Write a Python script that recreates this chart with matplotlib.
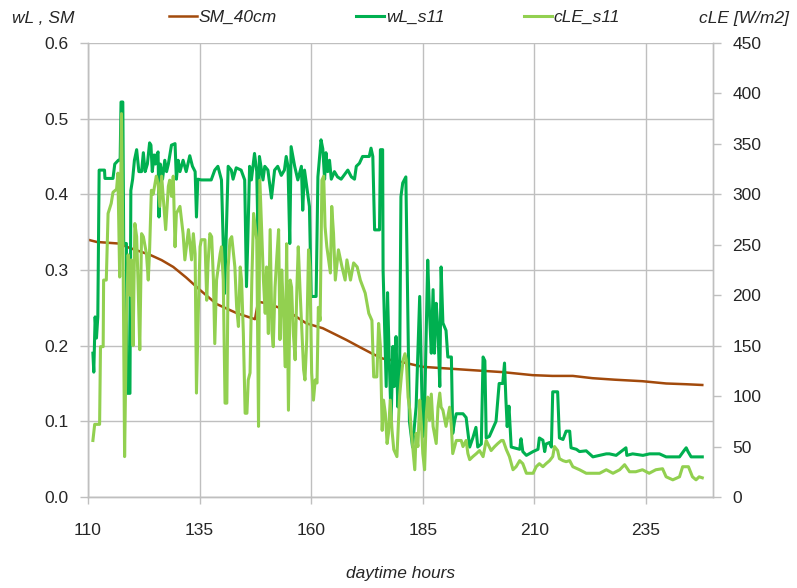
import matplotlib
matplotlib.use("Agg")
import matplotlib.pyplot as plt
from matplotlib.ticker import FixedLocator, FormatStrFormatter

plt.rcParams['font.family'] = ['Liberation Sans Narrow', 'Liberation Sans', 'DejaVu Sans']

# ---- soil moisture at 40 cm (left axis) ----
sm_hours = [110.0, 112.0, 116.8, 119.4, 123.9, 126.5, 129.1, 132.0, 135.0, 138.8,
            143.3, 147.4, 148.1, 150.0, 154.4, 158.9, 162.6, 165.0, 167.9, 170.9,
            173.8, 176.0, 179.8, 182.0, 185.0, 190.0, 195.0, 202.9, 209.6, 214.0,
            218.6, 223.0, 228.0, 234.2, 239.5, 244.0, 247.6]
sm_40cm = [0.340, 0.337, 0.335, 0.329, 0.320, 0.313, 0.304, 0.290, 0.274, 0.255,
           0.243, 0.235, 0.258, 0.256, 0.247, 0.2295, 0.223, 0.216, 0.2075, 0.198,
           0.189, 0.183, 0.179, 0.176, 0.172, 0.170, 0.168, 0.165, 0.161, 0.160,
           0.160, 0.157, 0.155, 0.153, 0.150, 0.149, 0.148]

# ---- wL_s11 (left axis) ----
wl_hours = [111.1, 111.3, 111.6, 111.9, 112.2, 112.5, 113.7, 113.8, 115.6, 116.0,
            116.8, 117.2, 117.4, 117.8, 118.0, 118.6, 118.8, 119.4, 119.6, 120.0,
            120.4, 120.9, 121.4, 122.0, 122.4, 122.8, 123.3, 123.8, 124.1, 124.4,
            124.8, 125.1, 125.4, 125.7, 125.9, 126.2, 126.7, 127.2, 127.6, 128.0,
            128.7, 129.5, 129.8, 130.2, 130.6, 131.3, 132.0, 132.8, 133.4, 134.0,
            134.3, 134.6, 135.4, 137.6, 138.4, 139.1, 139.9, 140.6, 141.4, 142.1,
            142.5, 143.2, 144.3, 145.1, 145.5, 145.8, 146.2, 146.6, 147.3, 147.8,
            148.1, 148.4, 149.2, 149.6, 150.3, 151.1, 151.8, 152.5, 153.3, 154.0,
            154.4, 154.8, 155.2, 155.5, 156.3, 157.0, 157.8, 158.1, 158.5, 159.6,
            160.0, 161.1, 161.5, 162.2, 162.6, 163.0, 163.3, 163.7, 164.1, 164.5,
            165.2, 165.9, 166.7, 168.2, 169.0, 169.7, 170.1, 170.8, 171.5, 173.0,
            173.4, 173.8, 174.2, 175.3, 175.5, 176.0, 176.1, 176.4, 176.8, 177.1,
            177.5, 177.9, 178.3, 178.6, 179.0, 179.4, 179.8, 180.1, 180.5, 181.2,
            181.6, 182.0, 182.7, 183.5, 183.9, 184.3, 184.7, 185.0, 185.4, 186.1,
            186.5, 186.9, 187.3, 187.6, 188.0, 188.4, 188.8, 189.1, 189.5, 190.2,
            190.6, 191.4, 191.7, 192.1, 192.5, 193.2, 194.0, 194.7, 195.5, 196.2,
            196.9, 197.3, 198.1, 198.5, 198.9, 199.2, 199.9, 201.4, 202.1, 202.9,
            203.3, 203.6, 203.9, 204.3, 204.8, 206.7, 207.0, 207.4, 208.2, 209.7,
            210.8, 211.1, 211.9, 212.3, 212.6, 213.4, 213.8, 214.1, 215.2, 215.6,
            216.4, 217.1, 217.9, 218.2, 219.4, 220.1, 221.6, 223.1, 226.1, 226.8,
            228.3, 230.5, 230.7, 232.0, 234.3, 235.8, 238.0, 239.5, 241.0, 242.5,
            243.6, 244.0, 244.4, 245.1, 247.0, 247.6]
wl_s11 = [0.190, 0.165, 0.238, 0.210, 0.238, 0.432, 0.432, 0.421, 0.421, 0.440,
          0.445, 0.445, 0.522, 0.522, 0.335, 0.335, 0.137, 0.137, 0.405, 0.420,
          0.445, 0.459, 0.430, 0.430, 0.455, 0.430, 0.440, 0.468, 0.465, 0.430,
          0.452, 0.440, 0.452, 0.456, 0.370, 0.440, 0.420, 0.445, 0.430, 0.440,
          0.465, 0.467, 0.420, 0.445, 0.430, 0.445, 0.430, 0.451, 0.437, 0.430,
          0.370, 0.420, 0.419, 0.419, 0.432, 0.437, 0.419, 0.269, 0.437, 0.432,
          0.420, 0.435, 0.432, 0.419, 0.278, 0.340, 0.437, 0.419, 0.454, 0.430,
          0.340, 0.450, 0.419, 0.437, 0.432, 0.395, 0.432, 0.437, 0.425, 0.432,
          0.450, 0.437, 0.335, 0.463, 0.437, 0.419, 0.437, 0.379, 0.432, 0.384,
          0.265, 0.265, 0.423, 0.472, 0.460, 0.420, 0.455, 0.430, 0.445, 0.420,
          0.430, 0.423, 0.420, 0.432, 0.423, 0.420, 0.437, 0.441, 0.450, 0.450,
          0.461, 0.450, 0.353, 0.353, 0.459, 0.459, 0.300, 0.234, 0.146, 0.270,
          0.177, 0.100, 0.199, 0.146, 0.212, 0.119, 0.163, 0.397, 0.415, 0.423,
          0.265, 0.100, 0.066, 0.119, 0.190, 0.265, 0.160, 0.080, 0.115, 0.313,
          0.243, 0.190, 0.274, 0.190, 0.256, 0.220, 0.146, 0.304, 0.230, 0.220,
          0.185, 0.185, 0.084, 0.100, 0.110, 0.110, 0.110, 0.105, 0.066, 0.078,
          0.092, 0.066, 0.070, 0.185, 0.180, 0.078, 0.080, 0.100, 0.150, 0.150,
          0.177, 0.130, 0.093, 0.120, 0.066, 0.063, 0.077, 0.060, 0.055, 0.060,
          0.063, 0.078, 0.075, 0.060, 0.070, 0.072, 0.066, 0.139, 0.139, 0.078,
          0.076, 0.087, 0.087, 0.065, 0.063, 0.060, 0.061, 0.053, 0.057, 0.057,
          0.055, 0.065, 0.055, 0.057, 0.055, 0.057, 0.057, 0.053, 0.053, 0.053,
          0.062, 0.065, 0.060, 0.053, 0.053, 0.053]

# ---- cLE_s11 (right axis, W/m2) ----
cle_hours = [111.1, 111.5, 112.6, 112.8, 113.4, 113.5, 114.1, 114.5, 115.2, 115.6,
             116.4, 116.7, 117.1, 117.5, 117.9, 118.2, 118.6, 119.0, 119.4, 119.7,
             120.1, 120.5, 120.9, 121.2, 121.6, 122.0, 122.4, 123.1, 123.5, 123.8,
             124.2, 124.6, 125.3, 125.7, 126.1, 126.5, 126.8, 127.4, 128.0, 128.3,
             128.7, 129.1, 129.5, 129.8, 130.6, 131.3, 131.7, 132.5, 133.2, 133.6,
             134.0, 134.3, 134.7, 135.1, 135.4, 136.2, 136.6, 136.9, 137.3, 137.7,
             138.1, 138.4, 138.8, 139.6, 139.9, 140.3, 140.7, 141.1, 141.4, 141.8,
             142.2, 142.9, 143.3, 143.7, 144.1, 144.4, 144.8, 145.2, 145.6, 145.9,
             146.3, 146.7, 147.1, 147.8, 148.2, 148.5, 149.3, 149.7, 150.0, 150.4,
             150.8, 151.2, 151.5, 151.9, 152.3, 152.7, 153.0, 153.4, 153.8, 154.2,
             154.5, 154.9, 155.3, 155.6, 156.0, 156.4, 156.8, 157.1, 157.5, 157.9,
             158.3, 158.6, 159.0, 159.4, 159.7, 160.1, 160.5, 160.9, 161.3, 161.6,
             162.0, 162.4, 162.8, 163.1, 163.5, 164.3, 164.6, 165.0, 165.4, 166.1,
             166.9, 167.6, 168.0, 168.8, 169.5, 170.3, 171.0, 172.1, 172.9, 173.6,
             174.0, 174.7, 175.1, 175.5, 175.9, 176.2, 176.6, 177.0, 177.3, 177.7,
             178.1, 178.5, 179.2, 179.8, 180.2, 180.6, 181.0, 181.3, 181.7, 182.1,
             182.4, 182.8, 183.2, 183.5, 183.9, 184.3, 184.7, 185.0, 185.4, 185.8,
             186.1, 186.5, 186.9, 187.3, 188.0, 188.4, 188.8, 189.1, 189.5, 190.2,
             191.0, 191.4, 191.7, 192.5, 193.6, 194.0, 194.7, 195.1, 195.5, 196.2,
             197.0, 197.7, 198.5, 199.2, 200.3, 201.1, 201.8, 202.6, 203.0, 203.7,
             204.4, 205.2, 205.9, 206.7, 207.4, 208.2, 209.7, 210.4, 211.1, 211.9,
             212.6, 213.4, 214.1, 214.5, 215.2, 215.6, 216.4, 217.1, 217.9, 218.6,
             220.1, 221.6, 223.1, 224.6, 226.1, 227.6, 229.1, 230.2, 231.3, 232.7,
             234.2, 235.7, 237.2, 238.7, 239.5, 241.0, 242.5, 243.2, 244.5, 245.4,
             246.2, 246.9, 247.6]
cle_s11 = [56, 72, 72, 149, 149, 215, 215, 281, 291, 302,
           305, 321, 218, 380, 218, 40, 172, 240, 200, 235,
           150, 271, 258, 215, 146, 261, 258, 241, 215, 245,
           304, 300, 318, 311, 288, 318, 300, 265, 308, 314,
           298, 318, 248, 281, 288, 261, 235, 265, 235, 261,
           241, 103, 182, 248, 255, 255, 195, 232, 261, 258,
           215, 152, 215, 241, 248, 215, 93, 93, 228, 255,
           258, 228, 188, 169, 228, 215, 162, 83, 83, 116,
           123, 215, 281, 255, 70, 314, 215, 182, 228, 162,
           265, 165, 149, 208, 238, 265, 156, 225, 182, 129,
           251, 86, 215, 208, 162, 136, 208, 248, 205, 165,
           126, 116, 156, 245, 228, 123, 96, 116, 113, 188,
           175, 314, 318, 268, 248, 222, 288, 261, 215, 245,
           228, 215, 235, 215, 232, 228, 215, 202, 182, 175,
           119, 119, 172, 149, 66, 96, 83, 53, 63, 96,
           66, 47, 40, 100, 120, 136, 142, 136, 99, 86,
           66, 47, 27, 63, 50, 96, 70, 43, 27, 83,
           99, 76, 102, 70, 53, 89, 103, 89, 86, 70,
           89, 70, 43, 56, 56, 50, 56, 43, 37, 40,
           43, 46, 40, 56, 46, 50, 53, 56, 56, 47,
           40, 27, 30, 36, 33, 23.5, 23.5, 30, 33, 30,
           33, 36, 40, 50, 46, 38, 36, 35, 36, 30,
           27, 23.5, 23.5, 23.5, 27, 23.5, 27, 32, 25, 25,
           27, 23.5, 27, 28, 20, 17, 20, 30, 30, 20,
           17, 20, 19]

x_ticks = [110, 135, 160, 185, 210, 235]
left_ticks = [0.0, 0.1, 0.2, 0.3, 0.4, 0.5, 0.6]
right_ticks = [0, 50, 100, 150, 200, 250, 300, 350, 400, 450]

c_sm = '#A24A0C'
c_wl = '#00B050'
c_cle = '#92D050'
c_grid = '#BFBFBF'
c_text = '#262626'

fig = plt.figure(figsize=(7.97, 5.88), dpi=100)
ax = fig.add_axes([0.1104, 0.1548, 0.7842, 0.7721])
ax2 = ax.twinx()

l_sm, = ax.plot(sm_hours, sm_40cm, color=c_sm, lw=1.8, label='SM_40cm', zorder=3)
l_wl, = ax.plot(wl_hours, wl_s11, color=c_wl, lw=2.2, label='wL_s11', zorder=4)
l_cle, = ax2.plot(cle_hours, cle_s11, color=c_cle, lw=2.2, label='cLE_s11', zorder=5)

ax.set_xlim(110, 250)
ax.set_ylim(0, 0.6)
ax2.set_ylim(0, 450)

ax.xaxis.set_major_locator(FixedLocator(x_ticks))
ax.yaxis.set_major_locator(FixedLocator(left_ticks))
ax.yaxis.set_major_formatter(FormatStrFormatter('%.1f'))
ax2.yaxis.set_major_locator(FixedLocator(right_ticks))

ax.grid(True, color=c_grid, lw=1.0)
ax.set_axisbelow(True)

for a in (ax, ax2):
    a.spines['top'].set_visible(False)
    for s in ('left', 'right', 'bottom'):
        a.spines[s].set_color(c_grid)
        a.spines[s].set_linewidth(1.0)

ax.tick_params(axis='x', length=5, width=1, color=c_grid, pad=14,
               labelsize=12.5, labelcolor=c_text)
ax.tick_params(axis='y', length=6, width=1, color=c_grid, pad=8,
               labelsize=12.5, labelcolor=c_text)
ax2.tick_params(axis='y', length=6, width=1, color=c_grid, pad=8,
                labelsize=12.5, labelcolor=c_text)

ax.set_xlabel('daytime hours', fontsize=12.5, style='italic', color=c_text, labelpad=20)
fig.text(0.015, 0.968, 'wL , SM', fontsize=12.5, style='italic', color=c_text,
         ha='left', va='center')
fig.text(0.99, 0.968, 'cLE [W/m2]', fontsize=12.5, style='italic', color=c_text,
         ha='right', va='center')

fig.legend(handles=[l_sm, l_wl, l_cle], loc='center', bbox_to_anchor=(0.495, 0.97),
           ncol=3, frameon=False, fontsize=12.5, handlelength=1.6,
           handletextpad=0.1, columnspacing=4.6, labelcolor=c_text)
for t in fig.legends[0].get_texts():
    t.set_style('italic')

fig.savefig('out.png', dpi=100)
